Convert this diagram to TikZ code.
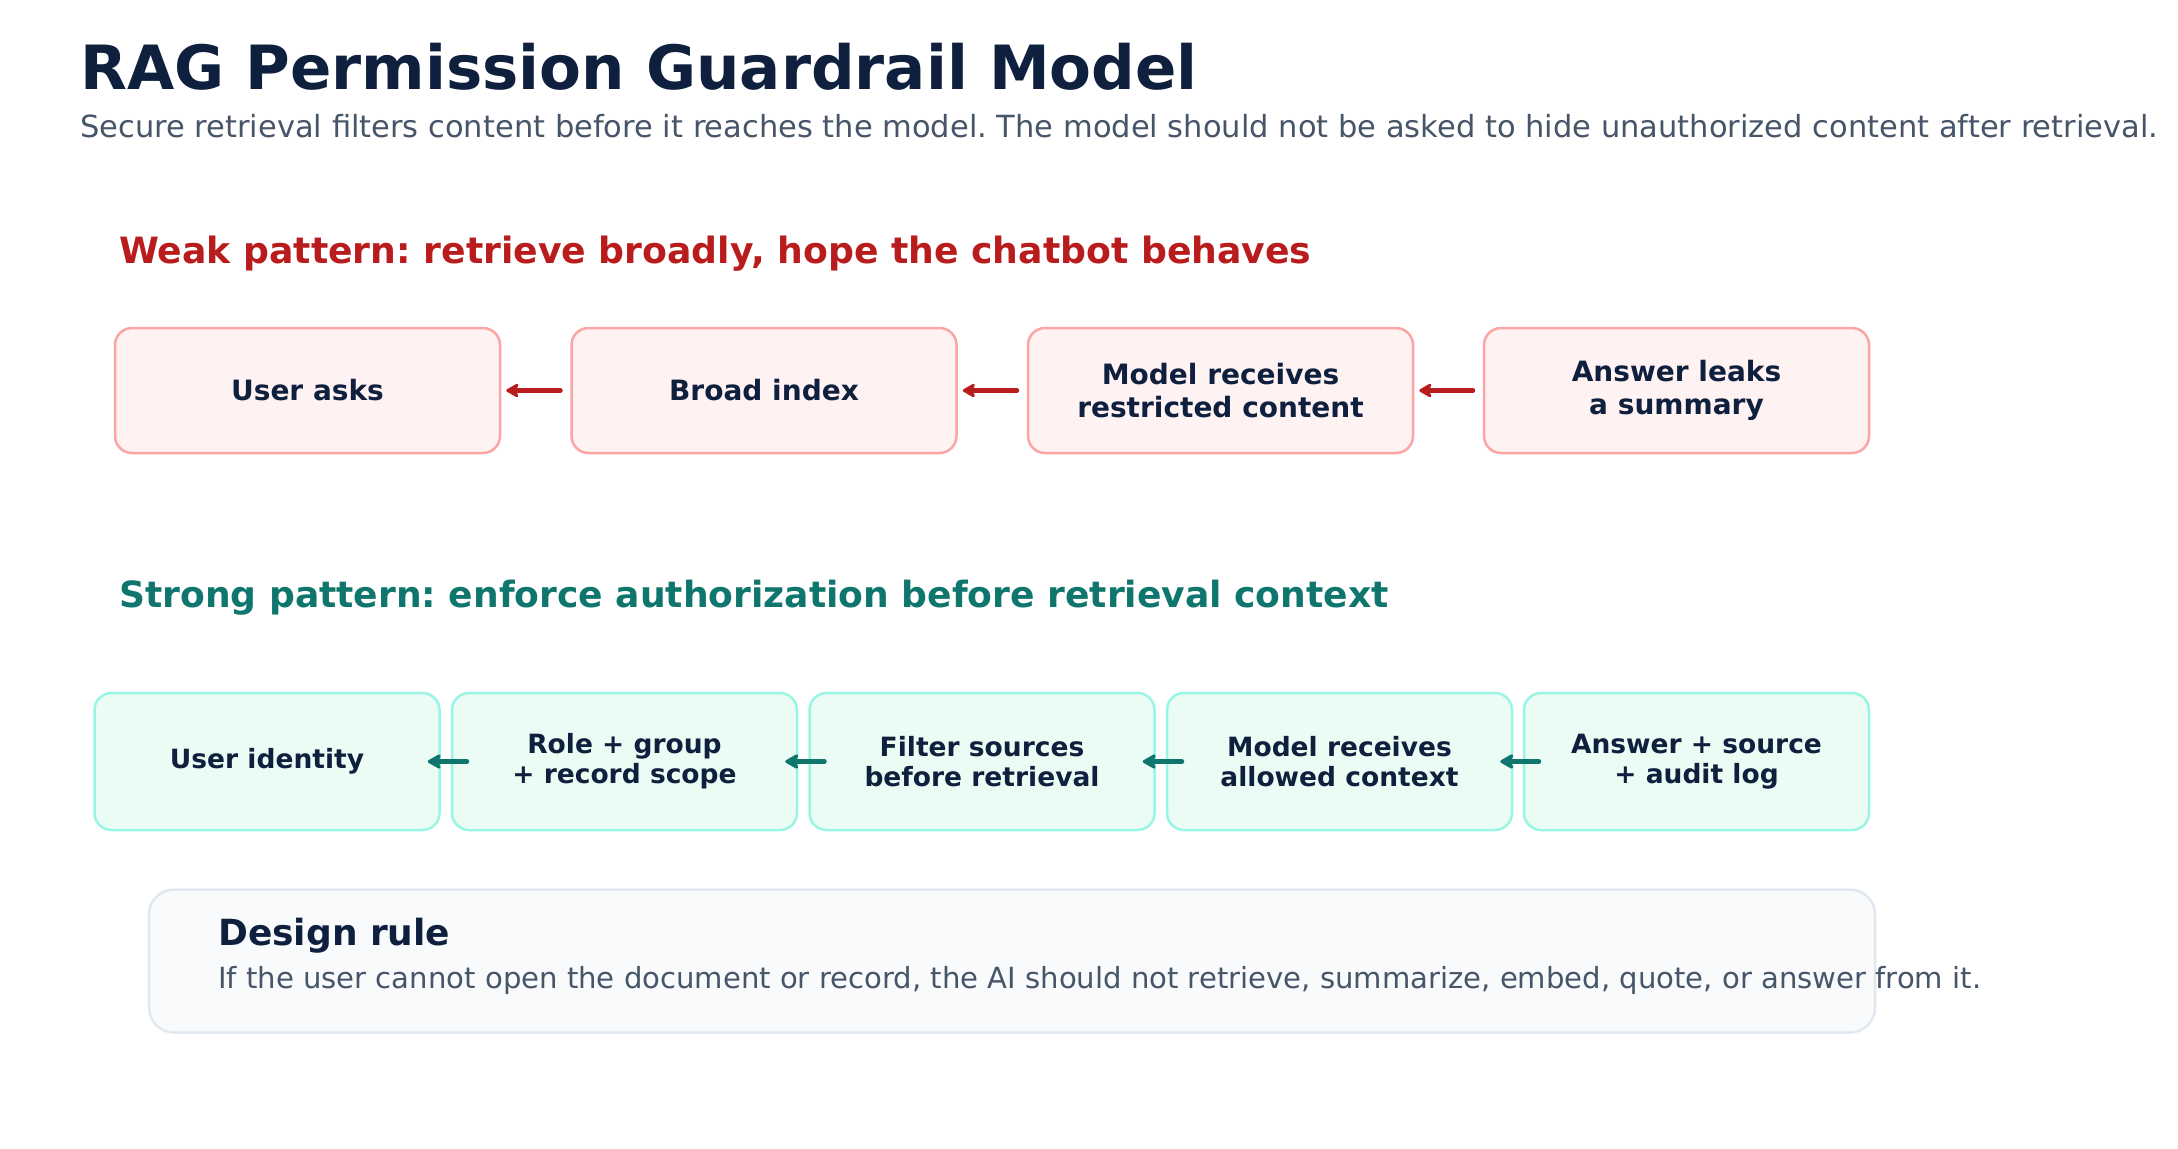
\documentclass[tikz,border=0pt]{standalone}
\usepackage{fontspec}
\setmainfont{DejaVu Sans}
\usetikzlibrary{arrows.meta,calc}
\definecolor{navy}{HTML}{0F203F}
\definecolor{slate}{HTML}{475569}
\definecolor{weakred}{HTML}{B91C1C}
\definecolor{weakfill}{HTML}{FEF2F2}
\definecolor{weakline}{HTML}{FCA5A5}
\definecolor{strongteal}{HTML}{0F766E}
\definecolor{strongfill}{HTML}{EBFCF4}
\definecolor{strongline}{HTML}{99F6E4}
\definecolor{rulefill}{HTML}{F8FAFC}
\definecolor{ruleline}{HTML}{E2E8F0}
\tikzset{
  weakbox/.style={draw=weakline, fill=weakfill, line width=2.5pt, rounded corners=17pt,
    minimum width=385pt, minimum height=125pt, align=center, text=navy, inner sep=0pt,
    font=\fontsize{28}{33}\selectfont\bfseries},
  strongbox/.style={draw=strongline, fill=strongfill, line width=2.5pt, rounded corners=17pt,
    minimum width=345pt, minimum height=137pt, align=center, text=navy, inner sep=0pt,
    font=\fontsize{26.5}{30}\selectfont\bfseries},
  rulebox/.style={draw=ruleline, fill=rulefill, line width=2.5pt, rounded corners=25pt,
    minimum width=1726pt, minimum height=143pt, inner sep=0pt},
  warrow/.style={draw=weakred, line width=5pt, line cap=round,
    -{Stealth[length=15pt,width=17pt,inset=4pt,round]}},
  sarrow/.style={draw=strongteal, line width=5pt, line cap=round,
    -{Stealth[length=16pt,width=18pt,inset=4pt,round]}},
  txt/.style={anchor=base west, inner sep=0pt},
}
\frenchspacing
\begin{document}
\begin{tikzpicture}[x=1pt,y=-1pt]
\fill[white] (0,0) rectangle (2178,1148);
\useasboundingbox (0,0) rectangle (2178,1148);

\node[txt, text=navy, font=\fontsize{61}{72}\selectfont\bfseries] (title) at (80,89) {RAG Permission Guardrail Model};
\node[txt, text=slate, font=\fontsize{30.5}{36}\selectfont] (subtitle) at (80,137) {Secure retrieval filters content before it reaches the model. The model should not be asked to hide unauthorized content after retrieval.};

\node[txt, text=weakred, font=\fontsize{36.2}{42}\selectfont\bfseries] (weakhead) at (119,263) {Weak pattern: retrieve broadly, hope the chatbot behaves};

\node[weakbox] (w1) at (307.5,390.5) {User asks};
\node[weakbox] (w2) at (764,390.5) {Broad index};
\node[weakbox] (w3) at (1220.5,390.5) {Model receives\\restricted content};
\node[weakbox] (w4) at (1676.5,390.5) {Answer leaks\\a summary};

\draw[warrow] ($(w2.west)+(-10,0)$) -- ($(w1.east)+(5,0)$);
\draw[warrow] ($(w3.west)+(-10,0)$) -- ($(w2.east)+(5,0)$);
\draw[warrow] ($(w4.west)+(-10,0)$) -- ($(w3.east)+(5,0)$);

\node[txt, text=strongteal, font=\fontsize{36.1}{42}\selectfont\bfseries] (stronghead) at (119,607) {Strong pattern: enforce authorization before retrieval context};

\node[strongbox] (s1) at (267,761.5) {User identity};
\node[strongbox] (s2) at (624.5,761.5) {Role + group\\+ record scope};
\node[strongbox] (s3) at (982,761.5) {Filter sources\\before retrieval};
\node[strongbox] (s4) at (1339.5,761.5) {Model receives\\allowed context};
\node[strongbox] (s5) at (1696.5,761.5) {Answer + source\\+ audit log};

\draw[sarrow] ($(s2.west)+(16,0)$) -- ($(s1.east)+(-13,0)$);
\draw[sarrow] ($(s3.west)+(16,0)$) -- ($(s2.east)+(-13,0)$);
\draw[sarrow] ($(s4.west)+(16,0)$) -- ($(s3.east)+(-13,0)$);
\draw[sarrow] ($(s5.west)+(16,0)$) -- ($(s4.east)+(-13,0)$);

\node[rulebox] (rule) at (1012,961) {};
\node[txt, text=navy, font=\fontsize{36}{42}\selectfont\bfseries] (rulehead) at (218,945) {Design rule};
\node[txt, text=slate, font=\fontsize{29.1}{35}\selectfont] (ruletext) at (218,988) {If the user cannot open the document or record, the AI should not retrieve, summarize, embed, quote, or answer from it.};
\end{tikzpicture}
\end{document}
